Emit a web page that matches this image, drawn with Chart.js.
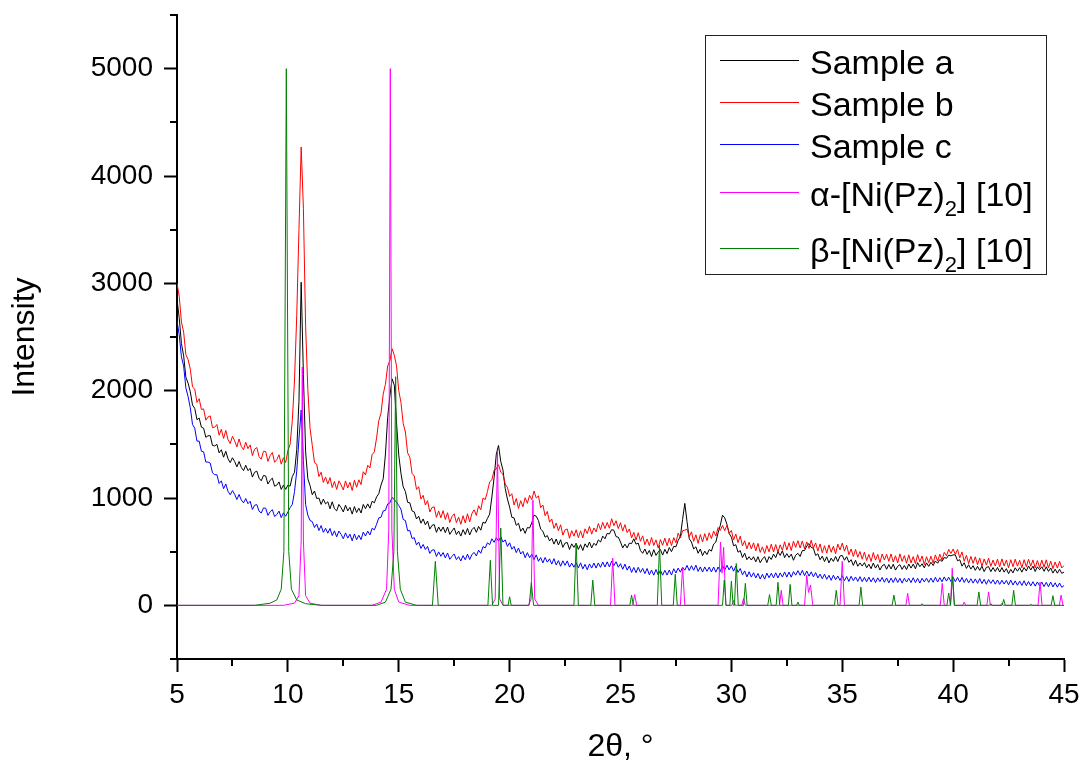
<!DOCTYPE html>
<html>
<head>
<meta charset="utf-8">
<script src="https://cdn.jsdelivr.net/npm/chart.js@4"></script>
<style>
  body { margin: 0; background: #fff; }
  #wrap { position: relative; width: 1085px; height: 770px; }
  #legend {
    position: absolute; left: 705px; top: 35px; width: 342px; height: 240px;
    border: 1px solid #222; background: transparent; box-sizing: border-box;
    font-family: 'Liberation Sans', Arial, sans-serif; font-size: 34px; color: #000;
  }
  .row { position: absolute; left: 104px; height: 40px; line-height: 40px; white-space: nowrap; }
  .row sub { font-size: 22px; vertical-align: -10px; line-height: 0; }
</style>
</head>
<body>
<div id="wrap">
  <canvas id="xrd"></canvas>
  <div id="legend"></div>
</div>
<script>
// scan grid (2theta, deg): 5.0 .. 45.0, step 0.1
const scanStart = 5, scanStep = 0.1, scanCount = 401;
const angles = [];
for (let i = 0; i < scanCount; i++) angles.push(+(scanStart + i * scanStep).toFixed(1));

// measured patterns, one row per degree
const sampleA = [
  2850, 2680, 2440, 2325, 2125, 2070, 1990, 1865, 1835, 1730,
  1745, 1660, 1650, 1565, 1580, 1580, 1490, 1485, 1500, 1420,
  1450, 1380, 1435, 1365, 1330, 1375, 1340, 1290, 1340, 1285,
  1255, 1305, 1255, 1275, 1195, 1240, 1250, 1185, 1160, 1210,
  1205, 1130, 1165, 1185, 1110, 1120, 1150, 1080, 1120, 1080,
  1120, 1110, 1200, 1240, 1450, 1900, 3010, 2150, 1430, 1180,
  1115, 1030, 1065, 995, 1000, 940, 990, 945, 965, 900,
  965, 900, 880, 940, 910, 870, 933, 880, 913, 850,
  920, 865, 905, 860, 940, 900, 945, 905, 970, 955,
  1010, 1040, 1120, 1180, 1410, 1750, 1950, 2110, 2050, 1700,
  1400, 1230, 1105, 1060, 960, 955, 880, 870, 805, 830,
  765, 805, 750, 785, 710, 745, 752, 680, 730, 690,
  730, 677, 729, 661, 693, 721, 659, 692, 645, 705,
  660, 717, 655, 705, 727, 680, 735, 700, 775, 765,
  810, 850, 1010, 1190, 1410, 1490, 1340, 1260, 1090, 990,
  915, 820, 815, 745, 765, 690, 720, 670, 725, 720,
  770, 840, 830, 790, 710, 690, 635, 650, 600, 625,
  570, 618, 562, 611, 540, 580, 585, 521, 573, 540,
  578, 521, 565, 511, 573, 540, 590, 535, 578, 558,
  610, 590, 645, 620, 670, 665, 705, 700, 640, 635,
  590, 535, 570, 535, 580, 575, 620, 570, 580, 510,
  485, 525, 475, 512, 455, 519, 465, 497, 520, 468,
  522, 482, 538, 500, 550, 545, 605, 640, 800, 950,
  780, 620, 590, 525, 545, 485, 525, 463, 505, 473,
  520, 505, 570, 590, 675, 745, 840, 815, 755, 670,
  635, 555, 565, 495, 510, 445, 485, 425, 453, 422,
  453, 405, 453, 397, 432, 454, 398, 454, 427, 477,
  445, 500, 465, 508, 445, 482, 446, 477, 420, 467,
  485, 455, 510, 510, 555, 575, 540, 530, 465, 480,
  425, 458, 408, 452, 395, 440, 409, 455, 408, 460,
  465, 420, 453, 401, 425, 372, 420, 364, 395, 366,
  398, 350, 383, 341, 394, 347, 380, 329, 368, 382,
  336, 380, 339, 383, 328, 363, 379, 335, 371, 333,
  385, 347, 384, 341, 398, 360, 387, 349, 396, 363,
  401, 371, 413, 392, 427, 409, 446, 438, 468, 461,
  470, 470, 415, 425, 365, 397, 344, 378, 338, 369,
  326, 363, 326, 365, 314, 354, 360, 314, 352, 315,
  353, 310, 352, 309, 342, 295, 335, 302, 350, 318,
  351, 309, 352, 320, 367, 329, 365, 315, 359, 332,
  360, 317, 359, 316, 348, 300, 337, 299, 336, 298,
  310
];
const sampleB = [
  3000, 2880, 2640, 2545, 2335, 2290, 2200, 2035, 2015, 1890,
  1925, 1825, 1830, 1725, 1755, 1765, 1655, 1660, 1685, 1585,
  1640, 1555, 1630, 1545, 1507, 1575, 1533, 1476, 1550, 1480,
  1450, 1520, 1460, 1495, 1395, 1455, 1470, 1385, 1362, 1435,
  1433, 1341, 1395, 1424, 1333, 1357, 1403, 1315, 1375, 1330,
  1440, 1500, 1720, 2100, 2700, 3500, 4270, 3700, 2600, 2010,
  1650, 1490, 1330, 1315, 1200, 1240, 1145, 1195, 1130, 1190,
  1097, 1155, 1080, 1160, 1122, 1075, 1159, 1094, 1146, 1070,
  1165, 1100, 1170, 1125, 1245, 1215, 1305, 1280, 1405, 1430,
  1560, 1720, 1790, 1970, 2060, 2230, 2280, 2390, 2330, 2230,
  2000, 1890, 1695, 1615, 1420, 1380, 1230, 1205, 1080, 1105,
  990, 1025, 935, 975, 870, 912, 917, 820, 880, 815,
  882, 800, 863, 772, 827, 853, 770, 822, 755, 835,
  767, 853, 778, 857, 890, 837, 928, 890, 1000, 985,
  1060, 1150, 1170, 1260, 1270, 1310, 1240, 1220, 1130, 1100,
  1015, 1040, 935, 995, 903, 975, 918, 1003, 950, 1025,
  985, 1065, 1000, 1020, 910, 935, 835, 875, 775, 805,
  717, 767, 695, 751, 654, 704, 711, 625, 696, 644,
  704, 631, 694, 628, 713, 669, 736, 663, 721, 684,
  762, 705, 773, 715, 772, 718, 807, 742, 788, 715,
  770, 692, 752, 677, 712, 628, 680, 608, 677, 597,
  648, 565, 618, 557, 632, 558, 610, 533, 613, 559,
  626, 555, 625, 557, 631, 583, 673, 627, 695, 700,
  710, 640, 685, 596, 657, 577, 660, 590, 668, 603,
  676, 622, 692, 645, 725, 698, 745, 695, 745, 670,
  698, 608, 665, 584, 645, 553, 602, 527, 588, 525,
  583, 507, 577, 493, 545, 483, 557, 498, 570, 498,
  566, 495, 564, 513, 592, 515, 583, 511, 598, 540,
  602, 534, 600, 526, 591, 530, 607, 533, 582, 505,
  572, 490, 555, 486, 564, 494, 551, 480, 570, 516,
  580, 505, 560, 472, 525, 455, 521, 448, 501, 430,
  496, 417, 475, 408, 492, 421, 475, 399, 478, 422,
  476, 410, 479, 403, 462, 396, 480, 409, 463, 392,
  471, 395, 454, 388, 472, 406, 460, 379, 453, 397,
  457, 395, 470, 412, 476, 422, 494, 461, 521, 483,
  525, 475, 520, 442, 498, 411, 466, 388, 456, 391,
  452, 379, 441, 364, 432, 375, 439, 363, 422, 366,
  430, 359, 433, 367, 421, 350, 425, 360, 430, 365,
  420, 350, 425, 360, 429, 364, 423, 348, 417, 352,
  421, 355, 424, 348, 412, 341, 404, 347, 410, 348,
  370
];
const sampleC = [
  2650, 2520, 2315, 2230, 2025, 1945, 1840, 1685, 1650, 1530,
  1530, 1435, 1430, 1335, 1335, 1325, 1235, 1217, 1217, 1135,
  1160, 1087, 1131, 1062, 1030, 1069, 1035, 986, 1033, 981,
  955, 995, 947, 970, 893, 933, 938, 878, 860, 907,
  905, 838, 872, 892, 828, 845, 878, 817, 862, 830,
  870, 910, 940, 1060, 1250, 1550, 1820, 1350, 940, 840,
  790, 780, 725, 758, 697, 743, 680, 718, 672, 716,
  650, 694, 638, 692, 661, 620, 675, 626, 663, 601,
  665, 611, 653, 612, 683, 646, 692, 656, 718, 703,
  755, 815, 820, 880, 885, 945, 955, 1005, 985, 960,
  930, 895, 800, 790, 695, 697, 623, 630, 563, 590,
  530, 567, 520, 549, 484, 515, 517, 455, 498, 457,
  492, 442, 488, 429, 456, 478, 426, 454, 413, 463,
  424, 477, 427, 474, 493, 460, 514, 485, 547, 535,
  583, 565, 620, 587, 630, 598, 639, 589, 610, 549,
  583, 523, 549, 491, 534, 478, 503, 444, 491, 444,
  477, 426, 470, 410, 445, 395, 446, 402, 433, 384,
  435, 376, 417, 364, 415, 372, 414, 356, 393, 355,
  397, 349, 396, 339, 382, 331, 386, 347, 394, 347,
  395, 354, 403, 357, 405, 357, 412, 370, 406, 355,
  388, 336, 384, 328, 367, 307, 353, 304, 355, 307,
  344, 296, 343, 285, 328, 281, 334, 283, 327, 281,
  326, 282, 329, 282, 341, 301, 347, 309, 356, 327,
  372, 324, 369, 327, 374, 316, 358, 310, 358, 317,
  356, 311, 357, 309, 357, 315, 374, 327, 374, 330,
  368, 318, 366, 307, 343, 284, 321, 264, 313, 263,
  304, 255, 297, 245, 289, 244, 300, 257, 299, 256,
  303, 255, 302, 264, 311, 263, 310, 262, 314, 281,
  323, 280, 326, 276, 320, 272, 312, 266, 305, 255,
  291, 248, 290, 242, 280, 233, 281, 239, 273, 232,
  276, 230, 269, 222, 271, 230, 264, 223, 267, 221,
  260, 219, 263, 218, 257, 212, 256, 221, 260, 215,
  255, 209, 254, 213, 258, 213, 252, 207, 252, 217,
  252, 212, 257, 212, 252, 207, 252, 218, 253, 214,
  254, 215, 261, 217, 258, 219, 265, 226, 262, 222,
  262, 221, 259, 217, 260, 213, 251, 209, 248, 207,
  246, 205, 249, 203, 242, 196, 240, 204, 238, 197,
  236, 195, 234, 198, 232, 191, 235, 189, 228, 187,
  226, 185, 229, 183, 222, 181, 220, 179, 218, 182,
  216, 175, 214, 173, 217, 171, 210, 169, 208, 167,
  185
];

// reference patterns [2theta, intensity]
const alphaRef = [
  [5, 0], [9.8, 0], [10.3, 20], [10.5, 90], [10.6, 600], [10.65, 2220], [10.7, 600], [10.8, 90], [11.0, 20], [11.5, 0],
  [13.8, 0], [14.2, 30], [14.45, 150], [14.55, 700], [14.62, 5000], [14.69, 700], [14.8, 150], [15.0, 30], [15.5, 0],
  [19.2, 0], [19.35, 60], [19.45, 1440], [19.55, 60], [19.7, 0],
  [20.85, 0], [20.97, 60], [21.05, 980], [21.13, 60], [21.3, 0],
  [24.55, 0], [24.65, 440], [24.75, 0],
  [25.55, 0], [25.64, 100], [25.73, 0],
  [27.7, 0], [27.8, 355], [27.9, 0],
  [29.4, 0], [29.51, 590], [29.58, 300], [29.65, 540], [29.75, 0],
  [30.02, 0], [30.1, 45], [30.18, 0],
  [30.47, 0], [30.55, 65], [30.63, 0],
  [32.17, 0], [32.25, 140], [32.33, 0],
  [33.3, 0], [33.4, 280], [33.48, 120], [33.57, 190], [33.67, 0],
  [34.9, 0], [35.0, 410], [35.1, 0],
  [37.87, 0], [37.95, 112], [38.03, 0],
  [39.42, 0], [39.51, 205], [39.6, 0],
  [39.88, 0], [39.96, 345], [40.05, 0],
  [40.43, 0], [40.5, 30], [40.57, 0],
  [41.52, 0], [41.6, 125], [41.68, 0],
  [42.14, 0], [42.2, 20], [42.26, 0],
  [43.83, 0], [43.92, 215], [44.01, 0],
  [44.79, 0], [44.87, 95], [44.95, 0], [45, 0]
];
const betaRef = [
  [5, 0], [8.5, 0], [9.2, 20], [9.5, 50], [9.7, 150], [9.82, 500], [9.93, 5000], [10.04, 500], [10.16, 150], [10.4, 50], [10.8, 15], [11.5, 0],
  [14.0, 0], [14.4, 30], [14.65, 150], [14.78, 500], [14.86, 2130], [14.94, 500], [15.07, 150], [15.3, 30], [15.8, 0],
  [16.52, 0], [16.65, 410], [16.78, 0],
  [19.02, 0], [19.13, 420], [19.23, 0], [19.5, 0], [19.6, 720], [19.7, 0],
  [19.93, 0], [20.0, 80], [20.07, 0],
  [20.88, 0], [20.98, 210], [21.08, 0],
  [22.9, 0], [23.0, 580], [23.1, 0],
  [23.66, 0], [23.75, 235], [23.84, 0],
  [25.42, 0], [25.5, 95], [25.58, 0],
  [26.66, 0], [26.76, 560], [26.86, 0],
  [27.38, 0], [27.47, 290], [27.56, 0],
  [29.6, 0], [29.68, 235], [29.76, 0],
  [29.93, 0], [30.0, 225], [30.08, 0], [30.14, 0], [30.22, 390], [30.31, 0],
  [30.55, 0], [30.63, 205], [30.71, 0],
  [31.64, 0], [31.72, 100], [31.8, 0],
  [32.02, 0], [32.1, 215], [32.18, 0],
  [32.57, 0], [32.65, 195], [32.73, 0],
  [32.94, 0], [33.0, 30], [33.06, 0],
  [34.65, 0], [34.73, 140], [34.81, 0],
  [35.76, 0], [35.84, 170], [35.92, 0],
  [37.25, 0], [37.33, 95], [37.41, 0],
  [38.54, 0], [38.6, 15], [38.66, 0],
  [39.72, 0], [39.8, 115], [39.88, 0], [39.98, 270], [40.06, 0],
  [41.08, 0], [41.16, 125], [41.24, 0],
  [41.64, 0], [41.7, 15], [41.76, 0],
  [42.21, 0], [42.28, 55], [42.35, 0],
  [42.65, 0], [42.73, 140], [42.81, 0],
  [43.44, 0], [43.5, 10], [43.56, 0],
  [44.42, 0], [44.5, 90], [44.58, 0], [45, 0]
];

const seriesNames = ['Sample a', 'Sample b', 'Sample c', 'α-[Ni(Pz)2] [10]', 'β-[Ni(Pz)2] [10]'];
const legendHtml = ['Sample a', 'Sample b', 'Sample c', 'α-[Ni(Pz)<sub>2</sub>] [10]', 'β-[Ni(Pz)<sub>2</sub>] [10]'];
const seriesColors = ['#000000', '#ff0000', '#0000ff', '#ff00ff', '#008000'];
const legendRowY = [25, 67, 109, 157, 213];
const legendBox = { left: 705, top: 35 };

const FONT = "'Liberation Sans', Arial, sans-serif";

function scan(values) {
  return values.map((v, i) => ({ x: angles[i], y: v }));
}
function pairs(list) {
  return list.map(p => ({ x: p[0], y: p[1] }));
}

const seriesData = [scan(sampleA), scan(sampleB), scan(sampleC), pairs(alphaRef), pairs(betaRef)];

// short ticks between the labelled ones, plus the legend line samples
const extras = {
  id: 'extras',
  afterDraw(chart) {
    const ctx = chart.ctx;
    const xs = chart.scales.x, ys = chart.scales.y;
    ctx.save();
    ctx.strokeStyle = '#000';
    ctx.lineWidth = 2;
    ctx.beginPath();
    xs.ticks.forEach(t => {
      if (t.value % 5 !== 0) {
        const px = Math.round(xs.getPixelForValue(t.value));
        ctx.moveTo(px, xs.top);
        ctx.lineTo(px, xs.top + 7);
      }
    });
    ys.ticks.forEach(t => {
      if (t.value % 1000 !== 0) {
        const py = Math.round(ys.getPixelForValue(t.value));
        ctx.moveTo(ys.right, py);
        ctx.lineTo(ys.right - 7, py);
      }
    });
    ctx.stroke();

    ctx.lineWidth = 1;
    chart.data.datasets.forEach((ds, i) => {
      const y = legendBox.top + legendRowY[i] + 0.5;
      ctx.strokeStyle = ds.borderColor;
      ctx.beginPath();
      ctx.moveTo(legendBox.left + 15, y);
      ctx.lineTo(legendBox.left + 94, y);
      ctx.stroke();
    });
    ctx.restore();
  }
};

const canvas = document.getElementById('xrd');
canvas.width = 1085;
canvas.height = 770;

const chart = new Chart(canvas.getContext('2d'), {
  type: 'line',
  data: {
    datasets: seriesData.map((d, i) => ({
      label: seriesNames[i],
      data: d,
      borderColor: seriesColors[i],
      backgroundColor: seriesColors[i],
      borderWidth: 1,
      pointRadius: 0,
      tension: 0,
      fill: false,
      order: 5 - i
    }))
  },
  options: {
    responsive: false,
    animation: false,
    events: [],
    layout: { padding: { top: 15, right: 21, left: 0, bottom: 0 } },
    plugins: {
      legend: { display: false },
      tooltip: { enabled: false }
    },
    scales: {
      x: {
        type: 'linear',
        min: 5,
        max: 45,
        border: { display: true, color: '#000', width: 2 },
        grid: {
          drawOnChartArea: false,
          drawTicks: true,
          tickLength: 13,
          tickWidth: 2,
          tickColor: c => (c.tick && c.tick.value % 5 === 0) ? '#000' : 'rgba(0,0,0,0)'
        },
        ticks: {
          stepSize: 2.5,
          autoSkip: false,
          maxRotation: 0,
          padding: 6,
          color: '#000',
          font: { family: FONT, size: 28 },
          callback: v => (v % 5 === 0 ? String(v) : '')
        },
        title: {
          display: true,
          text: '2θ, °',
          color: '#000',
          font: { family: FONT, size: 32 },
          padding: { top: 0, bottom: 4 }
        },
        afterFit: s => { s.height = 111; s.paddingLeft = 0; s.paddingRight = 0; }
      },
      y: {
        type: 'linear',
        min: -500,
        max: 5500,
        border: { display: true, color: '#000', width: 2 },
        grid: {
          drawOnChartArea: false,
          drawTicks: true,
          tickLength: 13,
          tickWidth: 2,
          tickColor: c => (c.tick && c.tick.value % 1000 === 0) ? '#000' : 'rgba(0,0,0,0)'
        },
        ticks: {
          stepSize: 500,
          autoSkip: false,
          padding: 11,
          color: '#000',
          font: { family: FONT, size: 28 },
          callback: v => (v % 1000 === 0 ? String(v) : '')
        },
        title: {
          display: true,
          text: 'Intensity',
          color: '#000',
          font: { family: FONT, size: 32 },
          padding: { top: 6, bottom: 0 }
        },
        afterFit: s => { s.width = 177; s.paddingTop = 0; s.paddingBottom = 0; }
      }
    }
  },
  plugins: [extras]
});

// legend texts (real text, with subscripts)
const legend = document.getElementById('legend');
legendHtml.forEach((html, i) => {
  const row = document.createElement('div');
  row.className = 'row';
  row.style.top = (legendRowY[i] - 19) + 'px';
  row.innerHTML = html;
  legend.appendChild(row);
});
</script>
</body>
</html>
